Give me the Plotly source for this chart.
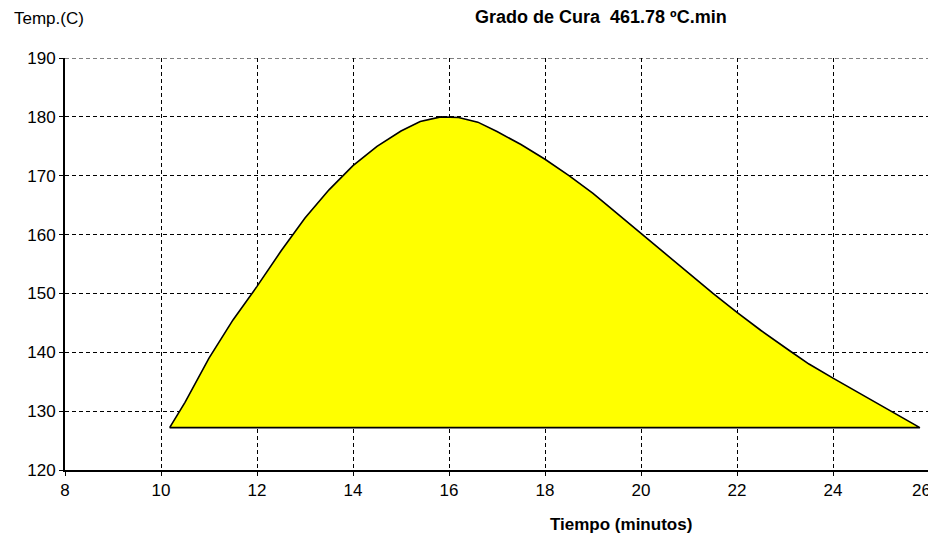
import plotly.graph_objects as go

# Cure curve (time in minutes, temperature in C)
tiempo = [10.18, 10.5, 11.0, 11.5, 12.0, 12.5, 13.0, 13.5, 14.0, 14.5, 15.0, 15.4, 15.83,
          16.2, 16.6, 17.0, 17.5, 18.0, 18.5, 19.0, 19.5, 20.04, 20.5, 21.0, 21.5, 22.0,
          22.5, 23.09, 23.5, 24.0, 24.5, 25.15, 25.81]
temp = [127.2, 131.5, 139.0, 145.5, 151.2, 157.2, 162.8, 167.6, 171.7, 175.0, 177.6, 179.2, 180.0,
        179.9, 179.1, 177.5, 175.3, 172.8, 170.0, 167.0, 163.6, 160.0, 156.8, 153.4, 150.0, 146.8,
        143.7, 140.3, 138.0, 135.6, 133.3, 130.3, 127.2]
base_temp = 127.2

x_ticks = [8, 10, 12, 14, 16, 18, 20, 22, 24, 26]
x_tick_labels = ["8", "10", "12", "14", "16", "18", "20", "22", "24", "26"]
y_ticks = [120, 130, 140, 150, 160, 170, 180, 190]

title_text = "Grado de Cura  461.78 ºC.min"
y_label = "Temp.(C)"
x_label = "Tiempo (minutos)"

poly_x = tiempo + [tiempo[-1], tiempo[0]]
poly_y = temp + [base_temp, base_temp]

fig = go.Figure()
fig.add_trace(go.Scatter(
    x=poly_x, y=poly_y, mode="lines", fill="toself",
    fillcolor="#FFFF00", line=dict(color="black", width=1.6),
    hoverinfo="skip", showlegend=False))

font_family = "Liberation Sans, Arial, sans-serif"
dash = "4px,3px"

# dashed borders at top and right (grid lines at the plot edges)
fig.add_shape(type="line", xref="x", yref="y", x0=8, x1=26, y0=190, y1=190,
              line=dict(color="black", width=1, dash=dash), layer="below")
fig.add_shape(type="line", xref="x", yref="y", x0=26, x1=26, y0=120, y1=190,
              line=dict(color="black", width=1, dash=dash), layer="below")

# last x tick label is drawn as an annotation, pulled left to stay inside the page
shown_x_labels = x_tick_labels[:-1] + [""]

# the page body has an 8px margin, so the figure is 8px smaller and offset
fig.update_layout(
    width=928, height=530,
    margin=dict(l=57, r=7, t=50, b=68),
    paper_bgcolor="white", plot_bgcolor="white",
    font=dict(family=font_family, size=14, color="black"),
    xaxis=dict(range=[8, 26], tickvals=x_ticks, ticktext=shown_x_labels,
               showgrid=True, gridcolor="black", griddash=dash, gridwidth=1,
               showline=True, linecolor="black", linewidth=2,
               ticks="outside", ticklen=4, tickcolor="black", zeroline=False,
               tickfont=dict(size=17), automargin=False, ticklabeloverflow="allow"),
    yaxis=dict(range=[120, 190], tickvals=y_ticks, ticktext=[str(v) for v in y_ticks],
               showgrid=True, gridcolor="black", griddash=dash, gridwidth=1,
               showline=True, linecolor="black", linewidth=2,
               ticks="outside", ticklen=4, tickcolor="black", zeroline=False,
               tickfont=dict(size=17), automargin=False, ticklabeloverflow="allow"),
    annotations=[
        dict(text="<b>" + title_text + "</b>", xref="paper", yref="paper",
             x=(601 - 65) / 864, y=1 + (58 - 17) / 412,
             showarrow=False, xanchor="center", yanchor="middle",
             font=dict(size=18, family=font_family)),
        dict(text=y_label, xref="paper", yref="paper", x=-(65 - 12) / 864, y=1 + (58 - 18) / 412,
             showarrow=False, xanchor="left", yanchor="middle",
             font=dict(size=17, family=font_family)),
        dict(text="<b>" + x_label + "</b>", xref="paper", yref="paper",
             x=(621 - 65) / 864, y=-(524 - 470) / 412,
             showarrow=False, xanchor="center", yanchor="middle",
             font=dict(size=17, family=font_family)),
        dict(text=x_tick_labels[-1], xref="x", yref="paper", x=x_ticks[-1], xshift=4,
             y=-(490 - 470) / 412, showarrow=False, xanchor="right", yanchor="middle",
             font=dict(size=17, family=font_family)),
    ],
)

fig.write_html("out.html")
